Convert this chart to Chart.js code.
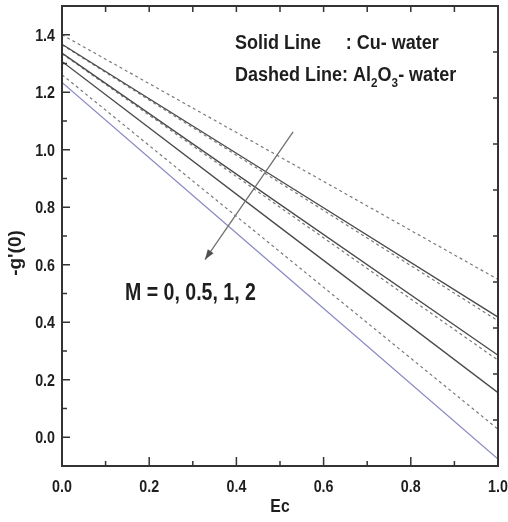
<!DOCTYPE html>
<html><head><meta charset="utf-8">
<script src="https://cdn.jsdelivr.net/npm/chart.js@4.4.0/dist/chart.umd.min.js"></script>
<style>html,body{margin:0;padding:0;background:#fff}#wrap{width:508px;height:522px}</style>
</head><body><div id="wrap"><canvas id="c" width="508" height="522"></canvas></div>
<script>
// ---- data ----
const ecValues = [0, 0.5, 1.0];
// Cu-water (solid lines), M = 0, 0.5, 1, 2
const cuM0   = [1.367, 0.893, 0.418];
const cuM05  = [1.336, 0.810, 0.285];
const cuM1   = [1.307, 0.730, 0.155];
const cuM2   = [1.234, 0.579, -0.076];
// Al2O3-water (dashed lines), M = 0, 0.5, 1, 2
const alM0   = [1.400, 0.975, 0.549];
const alM05  = [1.365, 0.885, 0.405];
const alM1   = [1.334, 0.800, 0.268];
const alM2   = [1.261, 0.645, 0.028];
const mValues = ['0', '0.5', '1', '2'];
const xTickValues = [0, 0.2, 0.4, 0.6, 0.8, 1.0];
const yTickValues = [0, 0.2, 0.4, 0.6, 0.8, 1.0, 1.2, 1.4];

const FONT = "'Liberation Sans', Arial, sans-serif";
const TXT = '#1e1e1e';
const toPts = arr => arr.map((v, i) => ({x: ecValues[i], y: v}));

function solid(label, arr, color) {
  return {label, data: toPts(arr), borderColor: color, borderWidth: 1.3, pointRadius: 0, fill: false, tension: 0};
}
function dashed(label, arr) {
  return {label, data: toPts(arr), borderColor: '#7a7a7a', borderWidth: 1.2, borderDash: [3, 3], pointRadius: 0, fill: false, tension: 0};
}

// draws horizontally condensed bold text; returns advanced width
function narrowText(ctx, text, x, y, size, sx, align, baseline) {
  ctx.save();
  ctx.font = 'bold ' + size + 'px ' + FONT;
  ctx.textAlign = align || 'left';
  ctx.textBaseline = baseline || 'alphabetic';
  ctx.translate(x, y);
  ctx.scale(sx, 1);
  ctx.fillText(text, 0, 0);
  const w = ctx.measureText(text).width * sx;
  ctx.restore();
  return w;
}

const frame = {
  id: 'frame',
  afterDatasetsDraw(chart) {
    const {ctx, chartArea: a, scales: {x, y}} = chart;
    ctx.save();
    ctx.strokeStyle = '#333';
    ctx.lineWidth = 1.5;
    ctx.beginPath();
    for (let k = 0; k <= 15; k++) {
      const v = -0.1 + k * 0.1;
      const py = y.getPixelForValue(v);
      const major = Math.abs(Math.round(v * 10) % 2) === 0;
      const len = major ? 8 : 5;
      if (py > a.top + 1 && py < a.bottom - 1) { ctx.moveTo(a.left, py); ctx.lineTo(a.left + len, py); }
    }
    for (let k = 1; k < 10; k++) {
      const px = x.getPixelForValue(k * 0.1);
      const len = (k % 2 === 0) ? 9 : 5;
      ctx.moveTo(px, a.bottom); ctx.lineTo(px, a.bottom - len);
    }
    for (let k = 1; k < 10; k++) {
      const px = x.getPixelForValue(k * 0.1);
      ctx.moveTo(px, a.top); ctx.lineTo(px, a.top + 6);
    }
    for (let k = 1; k < 10; k++) {
      const py = y.getPixelForValue(-0.1 + k * 0.16);
      ctx.moveTo(a.right, py); ctx.lineTo(a.right - 5, py);
    }
    ctx.stroke();
    ctx.lineWidth = 2;
    ctx.strokeRect(a.left, a.top, a.right - a.left, a.bottom - a.top);
    ctx.restore();
  },
  afterDraw(chart) {
    const {ctx, chartArea: a, scales: {x, y}} = chart;
    ctx.save();
    // arrow
    const x0 = x.getPixelForValue(0.53), y0 = y.getPixelForValue(1.0625);
    const x1 = x.getPixelForValue(0.328), y1 = y.getPixelForValue(0.618);
    ctx.strokeStyle = '#707070'; ctx.fillStyle = '#505050'; ctx.lineWidth = 1.3;
    ctx.beginPath(); ctx.moveTo(x0, y0); ctx.lineTo(x1, y1); ctx.stroke();
    const ang = Math.atan2(y1 - y0, x1 - x0), L = 10, W = 3.5;
    ctx.beginPath();
    ctx.moveTo(x1, y1);
    ctx.lineTo(x1 - L * Math.cos(ang) + W * Math.sin(ang), y1 - L * Math.sin(ang) - W * Math.cos(ang));
    ctx.lineTo(x1 - L * Math.cos(ang) - W * Math.sin(ang), y1 - L * Math.sin(ang) + W * Math.cos(ang));
    ctx.closePath(); ctx.fill();
    ctx.fillStyle = TXT;

    // tick labels
    for (const v of xTickValues) narrowText(ctx, v.toFixed(1), x.getPixelForValue(v), a.bottom + 26, 17, 0.84, 'center');
    for (const v of yTickValues) narrowText(ctx, v.toFixed(1), a.left - 7, y.getPixelForValue(v) + 6, 17, 0.84, 'right');

    // axis titles
    narrowText(ctx, 'Ec', x.getPixelForValue(0.5), a.bottom + 46, 18, 0.88, 'center');
    ctx.save();
    ctx.translate(21, (a.top + a.bottom) / 2 + 17);
    ctx.rotate(-Math.PI / 2);
    narrowText(ctx, "-g'(0)", 0, 0, 19, 1.0, 'center');
    ctx.restore();

    // legend text
    const lx = x.getPixelForValue(0.397), cx = x.getPixelForValue(0.651);
    const b1 = y.getPixelForValue(1.351), b2 = y.getPixelForValue(1.240);
    narrowText(ctx, 'Solid Line', lx, b1, 20, 0.9);
    narrowText(ctx, ': Cu- water', cx, b1, 20, 0.9);
    let px = lx;
    const parts = [['Dashed Line: Al', 20, 0], ['2', 13, 6], ['O', 20, 0], ['3', 13, 6], ['- water', 20, 0]];
    for (const [t, s, dy] of parts) px += narrowText(ctx, t, px, b2 + dy, s, 0.9);

    narrowText(ctx, 'M = ' + mValues.join(', '), x.getPixelForValue(0.1445), y.getPixelForValue(0.476), 23, 0.85);
    ctx.restore();
  }
};

new Chart(document.getElementById('c'), {
  type: 'line',
  data: {
    datasets: [
      dashed('Al2O3 M=0', alM0),
      solid('Cu M=0', cuM0, '#4a4a4a'),
      dashed('Al2O3 M=0.5', alM05),
      solid('Cu M=0.5', cuM05, '#4a4a4a'),
      solid('Cu M=1', cuM1, '#4a4a4a'),
      dashed('Al2O3 M=1', alM1),
      dashed('Al2O3 M=2', alM2),
      solid('Cu M=2', cuM2, '#8c8cc4')
    ]
  },
  options: {
    responsive: false,
    animation: false,
    devicePixelRatio: 1,
    layout: {padding: {left: 0, right: 10, top: 6, bottom: 0}},
    plugins: {legend: {display: false}, tooltip: {enabled: false}},
    scales: {
      x: {
        type: 'linear', min: 0, max: 1,
        grid: {display: false, drawTicks: false}, border: {display: false},
        afterBuildTicks: s => { s.ticks = xTickValues.map(v => ({value: v})); },
        afterFit: s => { s.height = 56; s.paddingLeft = 0; s.paddingRight = 0; },
        ticks: {display: false}
      },
      y: {
        type: 'linear', min: -0.1, max: 1.5,
        grid: {display: false, drawTicks: false}, border: {display: false},
        afterBuildTicks: s => { s.ticks = yTickValues.map(v => ({value: v})); },
        afterFit: s => { s.width = 62; s.paddingTop = 0; s.paddingBottom = 0; },
        ticks: {display: false}
      }
    }
  },
  plugins: [frame]
});
</script>
</body></html>
